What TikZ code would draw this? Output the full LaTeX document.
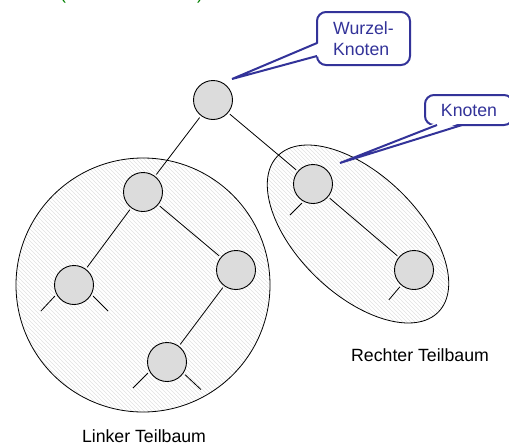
\documentclass[tikz,border=0pt]{standalone}
\usepackage{fontspec}
\setmainfont{Liberation Sans}
\usetikzlibrary{patterns}

\definecolor{calloutblue}{RGB}{51,51,153}
\definecolor{titlegreen}{RGB}{0,128,0}
\definecolor{nodegray}{RGB}{220,220,220}
\definecolor{hatchgray}{RGB}{226,226,226}

\pgfdeclarepatternformonly{thick north west lines}{\pgfqpoint{-1pt}{-1pt}}{\pgfqpoint{5pt}{5pt}}{\pgfqpoint{4pt}{4pt}}{%
  \pgfsetlinewidth{1.8pt}
  \pgfpathmoveto{\pgfqpoint{-0.5pt}{4.5pt}}
  \pgfpathlineto{\pgfqpoint{4.5pt}{-0.5pt}}
  \pgfusepath{stroke}}

\tikzset{
  treenode/.style={circle, draw, line width=0.9pt, fill=nodegray, minimum size=39pt, inner sep=0pt, outer sep=2.5pt},
  edge/.style={line width=0.8pt},
  subtree/.style={draw, line width=0.8pt, preaction={fill=hatchgray}, pattern=thick north west lines, pattern color=white},
  callbox/.style={draw=calloutblue, line width=2pt, fill=white, rounded corners=9pt, text=calloutblue, align=left,
    font=\fontsize{17.7}{21}\selectfont},
  callline/.style={draw=calloutblue, line width=2pt, line join=miter},
  sublabel/.style={inner sep=0pt, font=\fontsize{17.7}{21}\selectfont},
  paren/.style={inner sep=0pt, text=titlegreen, font=\fontsize{17.7}{21}\selectfont}
}

\begin{document}
\begin{tikzpicture}[x=1pt,y=1pt,yscale=-1]
    \useasboundingbox (0,0) rectangle (509,445);

    % title brackets, cut off at the top
    \node[paren, anchor=base] (lparen) at (63,-0.5) {(};
    \node[paren, anchor=base] (rparen) at (200,-0.5) {)};

    % subtrees
    \draw[subtree] (143,285) circle [radius=127];
    \draw[subtree, rotate around={44:(358,234)}] (358,234) ellipse [x radius=112, y radius=60];

    % nodes
    \node[treenode] (root) at (213,100) {};
    \node[treenode] (l) at (143,192) {};
    \node[treenode] (ll) at (74,285) {};
    \node[treenode] (lr) at (236,270) {};
    \node[treenode] (lrl) at (167,362) {};
    \node[treenode] (r) at (313,184) {};
    \node[treenode] (rr) at (414,270) {};

    % edges
    \draw[edge] (root) -- (l);
    \draw[edge] (root) -- (r);
    \draw[edge] (l) -- (ll);
    \draw[edge] (l) -- (lr);
    \draw[edge] (lr) -- (lrl);
    \draw[edge] (r) -- (rr);

    % open branches
    \draw[edge] (ll.210) -- ++(-14,15);
    \draw[edge] (ll.-30) -- ++(15,15);
    \draw[edge] (lrl.210) -- ++(-15,15);
    \draw[edge] (lrl.-35) -- ++(16,15);
    \draw[edge] (r.240) -- ++(-12,12);
    \draw[edge] (rr.230) -- ++(-11,13);

    % callout: root
    \node[callbox, minimum width=93pt, minimum height=53pt] (wurzel) at (363.5,38.5) {Wurzel-\\Knoten};
    \coordinate (wtip) at (232,79);
    \coordinate (wa) at (317,43);
    \coordinate (wb) at (317,56);
    \fill[white] (wtip) -- ([xshift=2.5pt]wa) -- ([xshift=2.5pt]wb) -- cycle;
    \draw[callline] (wa) -- (wtip) -- (wb);

    % callout: node
    \node[callbox, minimum width=88pt, minimum height=30pt] (knoten) at (469,110) {Knoten};
    \coordinate (ktip) at (340,163);
    \coordinate (ka) at (437,125);
    \coordinate (kb) at (462,125);
    \coordinate (ka2) at (437,122.5);
    \coordinate (kb2) at (462,122.5);
    \fill[white] (ktip) -- (ka2) -- (kb2) -- cycle;
    \draw[callline] (ka) -- (ktip) -- (kb);

    % labels
    \node[sublabel, anchor=base] (linkslbl) at (144,442) {Linker Teilbaum};
    \node[sublabel, anchor=base west] (rechtslbl) at (351,361) {Rechter Teilbaum};

\end{tikzpicture}
\end{document}
